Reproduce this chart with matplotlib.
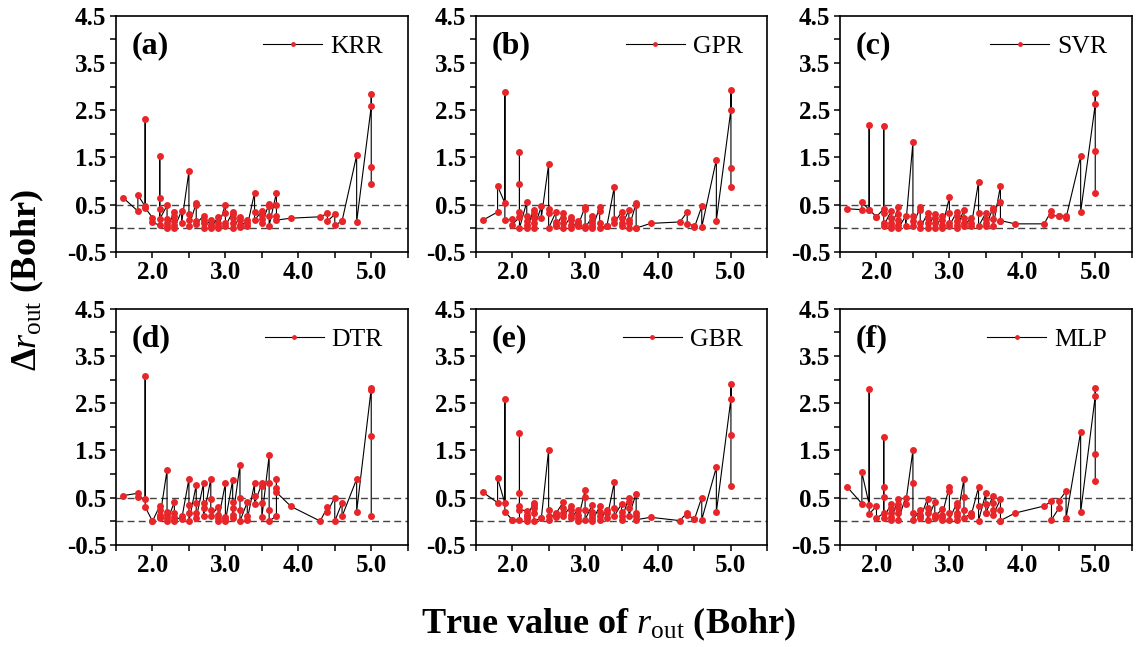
import matplotlib
matplotlib.use("Agg")
import matplotlib.pyplot as plt
import numpy as np

# Styling constants
FIG_W, FIG_H = 1142, 647
AX_W, AX_H = 291.7, 236.0
AX_LEFTS = [116.0, 475.7, 840.0]
AX_TOPS = [15.7, 308.7]
RED = "#E8262A"
DASH_COLOR = "#444444"

plt.rcParams["font.family"] = ["Liberation Serif", "DejaVu Serif"]
plt.rcParams["mathtext.fontset"] = "custom"
plt.rcParams["mathtext.rm"] = "Liberation Serif"
plt.rcParams["mathtext.it"] = "Liberation Serif:italic"
plt.rcParams["mathtext.bf"] = "Liberation Serif:bold"

# True r_out values (Bohr); every panel has one group of points per value
r_levels = [1.6, 1.8, 1.9, 2.0, 2.1, 2.2, 2.3, 2.4, 2.5, 2.6, 2.7, 2.8, 2.9, 3.0,
            3.1, 3.2, 3.3, 3.4, 3.5, 3.6, 3.7, 3.9, 4.3, 4.4, 4.5, 4.6, 4.8, 5.0]

model_names = ["KRR", "GPR", "SVR", "DTR", "GBR", "MLP"]
panel_tags = ["(a)", "(b)", "(c)", "(d)", "(e)", "(f)"]

# Delta r_out per group, same order as r_levels
krr_err = [[0.64], [0.36, 0.70], [0.46, 2.32, 0.43], [0.22, 0.12],
           [0.06, 1.52, 0.64, 0.41, 0.19], [0.48, 0.19, 0.11, 0.04, 0.00],
           [0.34, 0.25, 0.14, 0.07, 0.00], [0.37, 0.11], [1.20, 0.30, 0.17, 0.04],
           [0.53, 0.50, 0.14, 0.09], [0.26, 0.18, 0.11, 0.00], [0.17, 0.07, 0.04, 0.00],
           [0.23, 0.11, 0.04, 0.00], [0.50, 0.31, 0.11, 0.04],
           [0.34, 0.29, 0.22, 0.11, 0.00], [0.23, 0.17, 0.07, 0.02], [0.17, 0.11, 0.04],
           [0.75, 0.34, 0.17], [0.36, 0.27, 0.19, 0.11], [0.51, 0.46, 0.25, 0.05],
           [0.75, 0.48, 0.25, 0.17], [0.21], [0.24], [0.31, 0.15], [0.29, 0.06],
           [0.15, 0.15], [1.54, 0.13], [2.58, 2.84, 1.30, 0.93]]

gpr_err = [[0.17], [0.34, 0.89], [0.53, 2.88, 0.17], [0.19, 0.07],
           [0.23, 1.61, 0.94, 0.34, 0.00], [0.55, 0.25, 0.14, 0.07, 0.00],
           [0.39, 0.32, 0.22, 0.11, 0.00], [0.46, 0.22], [1.35, 0.41, 0.32, 0.00],
           [0.34, 0.12, 0.07, 0.04], [0.31, 0.22, 0.11, 0.00], [0.24, 0.18, 0.07, 0.00],
           [0.14, 0.11, 0.07, 0.04], [0.45, 0.41, 0.04, 0.00],
           [0.25, 0.18, 0.11, 0.04, 0.00], [0.44, 0.36, 0.11, 0.00], [0.05, 0.05, 0.05],
           [0.87, 0.19, 0.11], [0.34, 0.22, 0.11, 0.04], [0.38, 0.18, 0.11, 0.00],
           [0.53, 0.50, 0.00, 0.00], [0.10], [0.13], [0.34, 0.09], [0.05, 0.02],
           [0.46, 0.02], [1.45, 0.16], [2.51, 2.93, 1.27, 0.87]]

svr_err = [[0.41], [0.39, 0.55], [0.39, 2.18, 0.39], [0.24, 0.24],
           [0.41, 2.16, 0.31, 0.11, 0.05], [0.36, 0.22, 0.11, 0.04, 0.00],
           [0.44, 0.29, 0.18, 0.07, 0.00], [0.25, 0.04], [1.82, 0.25, 0.14, 0.05],
           [0.45, 0.39, 0.11, 0.00], [0.31, 0.22, 0.11, 0.00], [0.30, 0.22, 0.11, 0.00],
           [0.25, 0.17, 0.07, 0.00], [0.65, 0.31, 0.11, 0.05],
           [0.34, 0.25, 0.14, 0.07, 0.00], [0.39, 0.22, 0.11, 0.05], [0.22, 0.11, 0.05],
           [0.98, 0.31, 0.04], [0.32, 0.19, 0.11, 0.04], [0.43, 0.39, 0.19, 0.04],
           [0.89, 0.55, 0.16, 0.16], [0.09], [0.09], [0.37, 0.27], [0.25, 0.25],
           [0.26, 0.22], [1.52, 0.34], [2.62, 2.86, 1.64, 0.75]]

dtr_err = [[0.54], [0.59, 0.51], [0.47, 3.07, 0.30], [0.00, 0.00],
           [0.32, 0.24, 0.13, 0.08, 0.06], [1.08, 0.20, 0.13, 0.06, 0.00],
           [0.40, 0.17, 0.08, 0.03, 0.00], [0.10, 0.04], [0.89, 0.35, 0.17, 0.00],
           [0.76, 0.39, 0.17, 0.06], [0.80, 0.39, 0.27, 0.10], [0.89, 0.47, 0.23, 0.11],
           [0.30, 0.13, 0.06, 0.00], [0.80, 0.09, 0.04, 0.00],
           [0.87, 0.40, 0.27, 0.13, 0.06], [1.19, 0.50, 0.24, 0.00], [0.40, 0.10, 0.03],
           [0.80, 0.54, 0.37], [0.80, 0.75, 0.38, 0.08], [1.39, 0.80, 0.23, 0.00],
           [0.11, 0.89, 0.70, 0.61], [0.31], [0.00], [0.30, 0.20], [0.50, 0.00],
           [0.39, 0.10], [0.89, 0.20], [2.81, 2.77, 1.80, 0.10]]

gbr_err = [[0.61], [0.39, 0.91], [0.38, 2.58, 0.20], [0.03, 0.03],
           [0.03, 1.87, 0.59, 0.32, 0.24], [0.22, 0.13, 0.06, 0.01, 0.10],
           [0.39, 0.35, 0.27, 0.17, 0.01], [0.06, 0.06], [1.51, 0.24, 0.11, 0.03],
           [0.18, 0.13, 0.08, 0.16], [0.40, 0.27, 0.17, 0.10], [0.31, 0.23, 0.13, 0.06],
           [0.23, 0.13, 0.06, 0.01], [0.65, 0.51, 0.24, 0.03],
           [0.35, 0.20, 0.13, 0.06, 0.01], [0.31, 0.20, 0.10, 0.03], [0.24, 0.17, 0.06],
           [0.82, 0.27, 0.11], [0.36, 0.20, 0.11, 0.03], [0.50, 0.40, 0.27, 0.11],
           [0.58, 0.17, 0.11, 0.03], [0.08], [0.01], [0.18, 0.13], [0.04, 0.04],
           [0.50, 0.03], [1.14, 0.19], [2.59, 2.91, 1.82, 0.75]]

mlp_err = [[0.72], [0.37, 1.03], [0.35, 2.79, 0.15], [0.32, 0.06],
           [0.17, 1.79, 0.73, 0.52, 0.06], [0.37, 0.27, 0.17, 0.08, 0.03],
           [0.47, 0.37, 0.27, 0.17, 0.03], [0.50, 0.37], [1.50, 0.80, 0.17, 0.03],
           [0.23, 0.13, 0.10, 0.06], [0.47, 0.27, 0.17, 0.03], [0.40, 0.13, 0.06, 0.10],
           [0.25, 0.08, 0.03, 0.13], [0.73, 0.64, 0.17, 0.03],
           [0.38, 0.31, 0.17, 0.10, 0.03], [0.89, 0.52, 0.24, 0.06], [0.17, 0.10, 0.13],
           [0.72, 0.31, 0.01], [0.59, 0.37, 0.17, 0.17], [0.54, 0.39, 0.24, 0.13],
           [0.46, 0.23, 0.01, 0.01], [0.17], [0.32], [0.42, 0.03], [0.27, 0.43],
           [0.63, 0.06], [1.89, 0.19], [2.65, 2.83, 1.42, 0.84]]

all_errors = [krr_err, gpr_err, svr_err, dtr_err, gbr_err, mlp_err]

x_ticks = np.arange(1.5, 5.51, 0.5)
y_ticks = np.arange(-0.5, 4.51, 0.5)

fig = plt.figure(figsize=(FIG_W / 100, FIG_H / 100), dpi=100)

for i, (name, tag, errs) in enumerate(zip(model_names, panel_tags, all_errors)):
    row, col = divmod(i, 3)
    ax = fig.add_axes([AX_LEFTS[col] / FIG_W,
                       1 - (AX_TOPS[row] + AX_H) / FIG_H,
                       AX_W / FIG_W, AX_H / FIG_H])

    x = np.repeat(r_levels, [len(g) for g in errs])
    y = np.concatenate(errs)

    ax.axhline(0.0, color=DASH_COLOR, lw=1.0, ls=(0, (5, 3)), zorder=1)
    ax.axhline(0.5, color=DASH_COLOR, lw=1.0, ls=(0, (5, 3)), zorder=1)
    ax.plot(x, y, color="black", lw=0.8, marker="o", ms=5,
            mfc=RED, mec=RED, mew=0, label=name, zorder=3)

    ax.set_xlim(1.5, 5.5)
    ax.set_ylim(-0.5, 4.5)
    ax.set_xticks(x_ticks)
    ax.set_xticklabels([f"{v:.1f}" if v % 1 == 0 else "" for v in x_ticks])
    ax.set_yticks(y_ticks)
    ax.set_yticklabels([f"{v:.1f}" if (v + 0.5) % 1 == 0 else "" for v in y_ticks])
    ax.tick_params(direction="out", length=4, width=1.1, labelsize=18, pad=3)
    for lbl in ax.get_xticklabels() + ax.get_yticklabels():
        lbl.set_fontweight("bold")
    for sp in ax.spines.values():
        sp.set_linewidth(1.2)

    ax.text(0.054, 0.872, tag, transform=ax.transAxes, fontsize=23,
            fontweight="bold", va="center", ha="left")
    ax.legend(loc="center right", bbox_to_anchor=(0.915, 0.869), frameon=False,
              fontsize=18.5, handlelength=2.3, markerscale=0.7, borderpad=0,
              borderaxespad=0, handletextpad=0.3)

fig.text(0.024, 0.567, "Δ$\\mathit{r}_{\\mathrm{out}}$ (Bohr)", rotation=90,
         fontsize=26, fontweight="bold", ha="center", va="center")
fig.text(0.533, 0.035, "True value of $\\mathit{r}_{\\mathrm{out}}$ (Bohr)",
         fontsize=26, fontweight="bold", ha="center", va="center")

fig.savefig("out.png", dpi=100)
